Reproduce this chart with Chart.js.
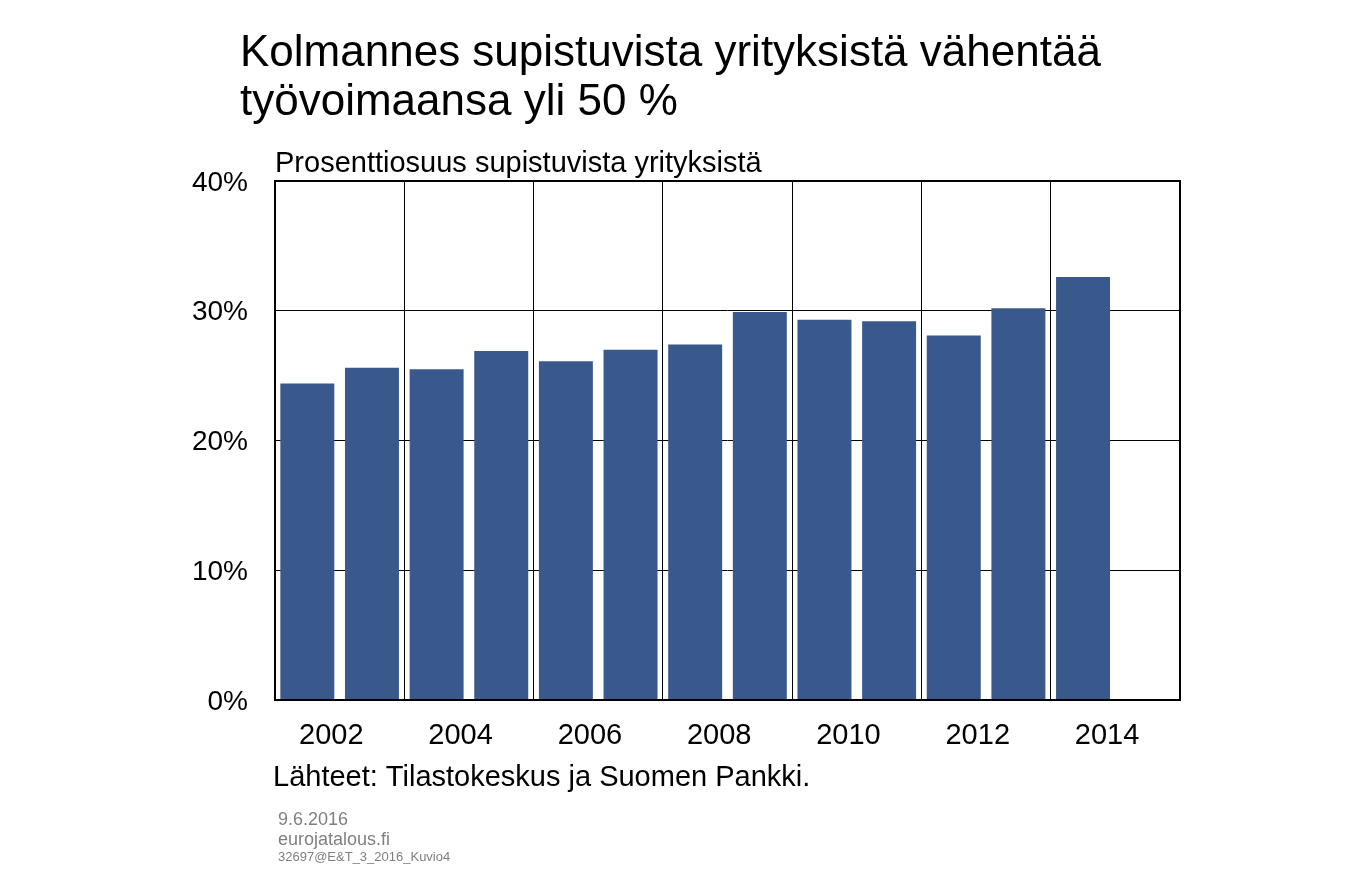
<!DOCTYPE HTML>
<html>
<head>
    <title>Supistuvat yritykset</title>
    <meta charset="utf-8" />
    <script src="https://cdn.jsdelivr.net/npm/chart.js@4/dist/chart.umd.min.js"></script>
    <style>
        body { margin: 0; background: #fff; }
        #container { width: 1348px; height: 880px; }
    </style>
    <script>
        // data
        const years = ['2002', '2003', '2004', '2005', '2006', '2007', '2008',
            '2009', '2010', '2011', '2012', '2013', '2014', '2015'];
        const shares = [24.4, 25.6, 25.5, 26.9, 26.1, 27.0, 27.4,
            29.9, 29.3, 29.2, 28.1, 30.2, 32.6, null];
        const y_ticks = [0, 10, 20, 30, 40];

        const title_lines = ['Kolmannes supistuvista yrityksistä vähentää', 'työvoimaansa yli 50 %'];
        const subtitle = 'Prosenttiosuus supistuvista yrityksistä';
        const source = 'Lähteet: Tilastokeskus ja Suomen Pankki.';
        const footer = ['9.6.2016', 'eurojatalous.fi', '32697@E&T_3_2016_Kuvio4'];

        const font = '"Liberation Sans", Arial, sans-serif';
        const bar_color = '#39598c';
    </script>
</head>

<body>
    <div id="container">
        <canvas id="chartCanvas"></canvas>
    </div>

    <script>
        const texts = {
            id: 'texts',
            afterDraw(chart) {
                const ctx = chart.ctx;
                const area = chart.chartArea;
                ctx.save();
                // frame around plot
                ctx.strokeStyle = '#000';
                ctx.lineWidth = 2;
                ctx.strokeRect(area.left, area.top, area.right - area.left, area.bottom - area.top);

                ctx.fillStyle = '#000';
                ctx.textAlign = 'left';
                ctx.textBaseline = 'alphabetic';
                ctx.font = '44px ' + font;
                ctx.fillText(title_lines[0], 240, 66);
                ctx.fillText(title_lines[1], 240, 115);

                ctx.font = '29px ' + font;
                ctx.fillText(subtitle, 275, 172);
                ctx.fillText(source, 273, 786);

                ctx.fillStyle = '#808080';
                ctx.font = '18px ' + font;
                ctx.fillText(footer[0], 278, 825);
                ctx.fillText(footer[1], 278, 845);
                ctx.font = '13px ' + font;
                ctx.fillText(footer[2], 278, 861);
                ctx.restore();
            }
        };

        const config = {
            type: 'bar',
            data: {
                labels: years,
                datasets: [{
                    data: shares,
                    backgroundColor: bar_color,
                    borderWidth: 0,
                    barPercentage: 0.835,
                    categoryPercentage: 1
                }]
            },
            options: {
                responsive: true,
                maintainAspectRatio: false,
                animation: false,
                layout: {
                    padding: { top: 181, right: 168, left: 0, bottom: 0 }
                },
                plugins: {
                    legend: { display: false },
                    tooltip: { enabled: false }
                },
                scales: {
                    x: {
                        offset: true,
                        grid: {
                            offset: true,
                            drawTicks: false,
                            color: ctx => (ctx.index === undefined || ctx.index % 2 === 0) ? '#000' : 'rgba(0,0,0,0)',
                            lineWidth: 1
                        },
                        border: { display: false },
                        ticks: {
                            autoSkip: false,
                            maxRotation: 0,
                            labelOffset: 24,
                            padding: 19,
                            color: '#000',
                            font: { family: font, size: 29 },
                            callback: function (value, index) {
                                return index % 2 === 0 ? years[index] : '';
                            }
                        },
                        afterFit: scale => { scale.height = 180; }
                    },
                    y: {
                        min: 0,
                        max: 40,
                        afterBuildTicks: scale => {
                            scale.ticks = y_ticks.map(v => ({ value: v }));
                        },
                        grid: {
                            drawTicks: false,
                            color: '#000',
                            lineWidth: 1
                        },
                        border: { display: false },
                        ticks: {
                            padding: 27,
                            labelOffset: 2,
                            color: '#000',
                            font: { family: font, size: 28 },
                            callback: v => v + '%'
                        },
                        afterFit: scale => { scale.width = 275; }
                    }
                }
            },
            plugins: [texts]
        };

        new Chart(document.getElementById('chartCanvas'), config);
    </script>
</body>
</html>
